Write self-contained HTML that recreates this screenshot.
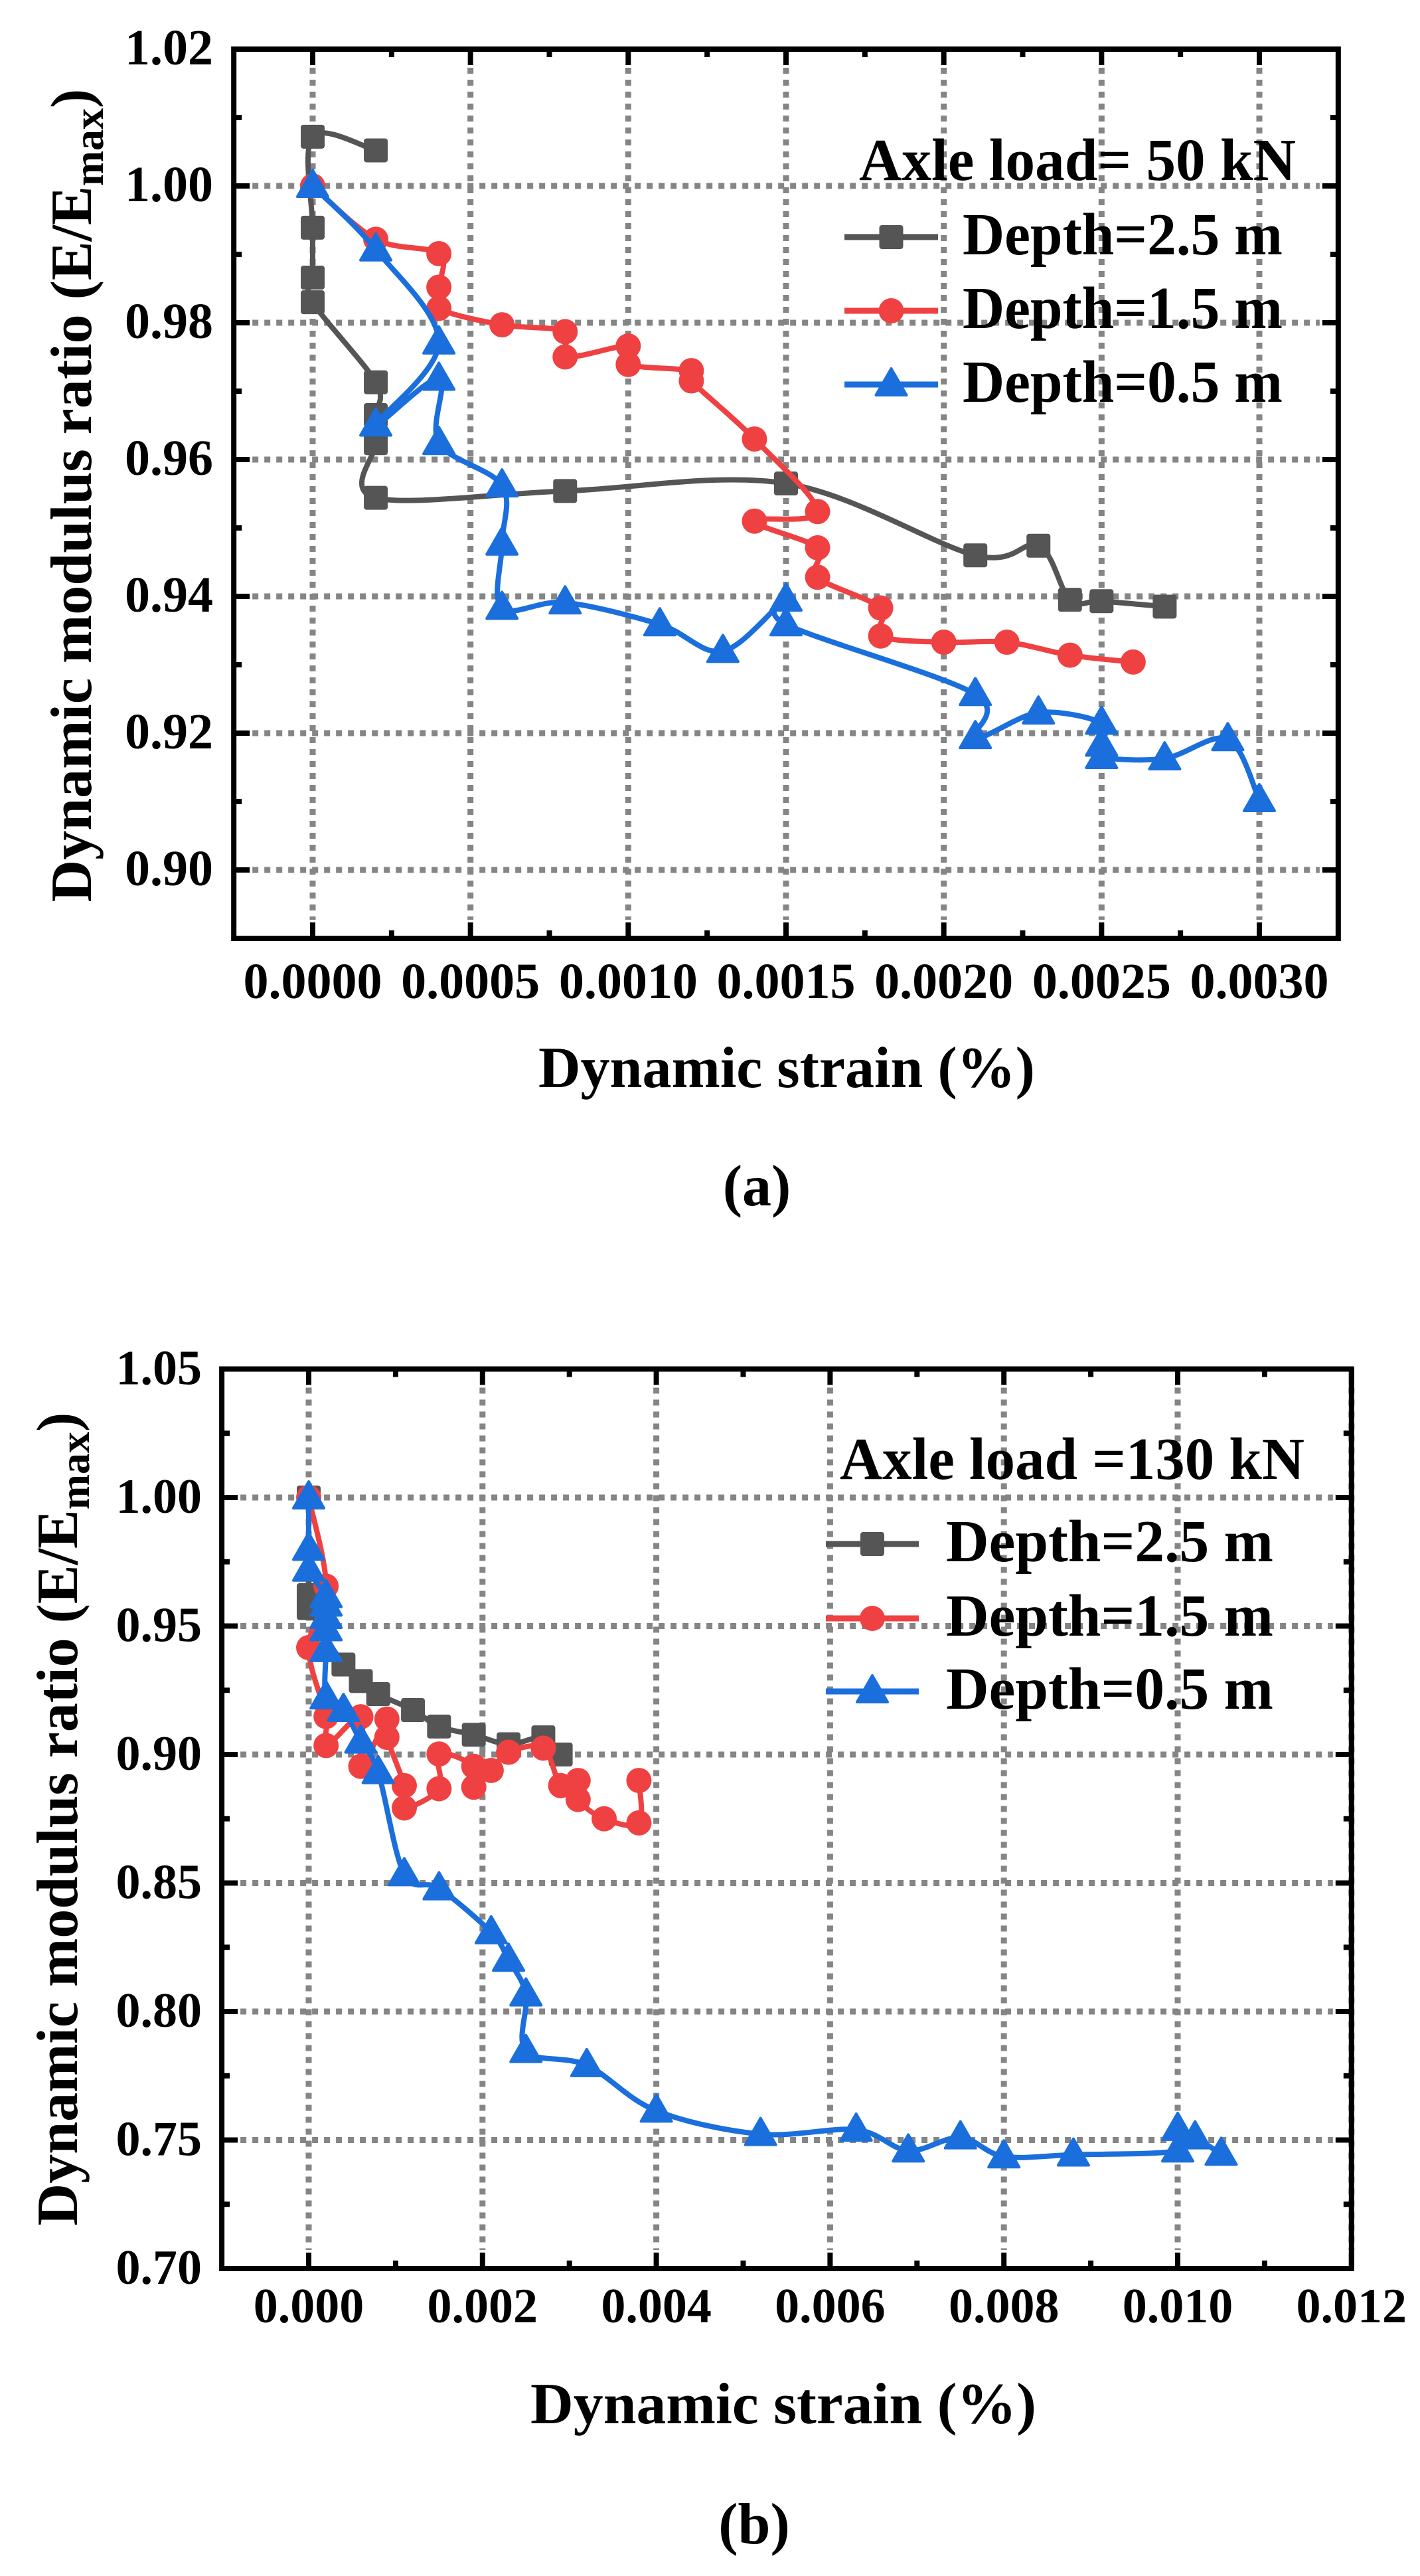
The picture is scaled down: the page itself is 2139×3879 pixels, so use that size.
<!DOCTYPE html>
<html><head><meta charset="utf-8"><style>
html,body{margin:0;padding:0;background:#fff;}
svg{display:block;}
text{font-family:"Liberation Serif",serif;font-weight:bold;fill:#000;}
</style></head>
<body>
<svg id="fig" width="2139" height="3879" viewBox="0 0 2139 3879" xmlns="http://www.w3.org/2000/svg">
<rect x="0" y="0" width="2139" height="3879" fill="#fff"/>
<g id="chartA"></g>
<g id="chartB"></g>
</svg>
<script>
// ---- Chart (a) data: Axle load = 50 kN ----
const aStrain25 = [0.0002,0,0,0,0,0.0002,0.0002,0.0002,0.0002,0.0008,0.0015,0.0021,0.0023,0.0024,0.0025,0.0027];
const aRatio25  = [1.0052,1.0072,0.9939,0.9866,0.983,0.9713,0.9665,0.9624,0.9544,0.9554,0.9565,0.946,0.9474,0.9395,0.9393,0.9385];
const aStrain15 = [0,0.0002,0.0004,0.0004,0.0004,0.0006,0.0008,0.0008,0.001,0.001,0.0012,0.0012,0.0014,0.0016,0.0014,0.0016,0.0016,0.0018,0.0018,0.002,0.0022,0.0024,0.0026];
const aRatio15  = [1.0,0.9922,0.9901,0.9852,0.9821,0.9797,0.9787,0.975,0.9766,0.9739,0.973,0.9715,0.963,0.9524,0.951,0.9471,0.9428,0.9383,0.9342,0.9333,0.9333,0.9314,0.9304];
const aStrain05 = [0,0.0002,0.0004,0.0002,0.0004,0.0004,0.0006,0.0006,0.0006,0.0008,0.0011,0.0013,0.0015,0.0015,0.0021,0.0021,0.0023,0.0025,0.0025,0.0025,0.0027,0.0029,0.003];
const aRatio05  = [1.0,0.9907,0.9771,0.9651,0.9718,0.9624,0.9562,0.9477,0.9383,0.9391,0.9359,0.932,0.9395,0.9359,0.9257,0.9194,0.923,0.9215,0.9183,0.9165,0.9163,0.9191,0.9102];
const aXTicks = [0,0.0005,0.001,0.0015,0.002,0.0025,0.003];
const aXTickLabels = ["0.0000","0.0005","0.0010","0.0015","0.0020","0.0025","0.0030"];
const aYTicks = [0.90,0.92,0.94,0.96,0.98,1.00,1.02];
const aYTickLabels = ["0.90","0.92","0.94","0.96","0.98","1.00","1.02"];

// ---- Chart (b) data: Axle load = 130 kN ----
const bStrain25 = [0,0,0,0.0004,0.0006,0.0008,0.0012,0.0015,0.0019,0.0023,0.0027,0.0029];
const bRatio25  = [1.0,0.962,0.957,0.935,0.9286,0.9235,0.9173,0.9109,0.9077,0.904,0.9067,0.9];
const bStrain15 = [0,0.0002,0,0.0002,0.0002,0.0006,0.0006,0.0009,0.0009,0.0011,0.0011,0.0015,0.0015,0.0019,0.0019,0.0021,0.0023,0.0027,0.0029,0.0031,0.0031,0.0034,0.0038,0.0038];
const bRatio15  = [1.0,0.9655,0.9416,0.9148,0.9035,0.9147,0.8954,0.9138,0.9067,0.8879,0.8792,0.8867,0.9002,0.8954,0.8873,0.8938,0.9009,0.9025,0.8879,0.8899,0.8825,0.875,0.8734,0.8899];
const bStrain05 = [0,0,0,0.0002,0.0002,0.0002,0.0002,0.0002,0.0002,0.0004,0.0006,0.0008,0.0011,0.0015,0.0021,0.0023,0.0025,0.0025,0.0032,0.004,0.0052,0.0063,0.0069,0.0075,0.008,0.0088,0.01,0.01,0.0102,0.0105];
const bRatio05  = [1.0,0.98,0.9719,0.9616,0.9583,0.9535,0.9487,0.9406,0.9222,0.9173,0.905,0.8931,0.8534,0.8479,0.8308,0.8201,0.8066,0.7846,0.7791,0.7614,0.7523,0.754,0.7459,0.751,0.7436,0.7443,0.7459,0.7543,0.751,0.7446];
const bXTicks = [0,0.002,0.004,0.006,0.008,0.010,0.012];
const bXTickLabels = ["0.000","0.002","0.004","0.006","0.008","0.010","0.012"];
const bYTicks = [0.70,0.75,0.80,0.85,0.90,0.95,1.00,1.05];
const bYTickLabels = ["0.70","0.75","0.80","0.85","0.90","0.95","1.00","1.05"];

const legendNames = ["Depth=2.5 m","Depth=1.5 m","Depth=0.5 m"];
const NS = "http://www.w3.org/2000/svg";
const COLORS = ["#555555","#ef4141","#1b6fdc"];
const SHAPES = ["square","circle","triangle"];

function mk(tag, attrs, parent){
  const e = document.createElementNS(NS, tag);
  for (const k in attrs) e.setAttribute(k, attrs[k]);
  if (parent) parent.appendChild(e);
  return e;
}
function spline(pts){
  if (pts.length < 2) return "";
  let d = "M" + pts[0][0].toFixed(1) + "," + pts[0][1].toFixed(1);
  for (let i = 0; i < pts.length - 1; i++){
    const p0 = pts[i-1] || pts[i], p1 = pts[i], p2 = pts[i+1], p3 = pts[i+2] || pts[i+1];
    const c1x = p1[0] + (p2[0]-p0[0])/6, c1y = p1[1] + (p2[1]-p0[1])/6;
    const c2x = p2[0] - (p3[0]-p1[0])/6, c2y = p2[1] - (p3[1]-p1[1])/6;
    d += " C" + c1x.toFixed(1)+","+c1y.toFixed(1)+" "+c2x.toFixed(1)+","+c2y.toFixed(1)+" "+p2[0].toFixed(1)+","+p2[1].toFixed(1);
  }
  return d;
}
function marker(g, shape, x, y, color){
  let m;
  if (shape === "square") m = mk("rect",{x:x-18,y:y-18,width:36,height:36,rx:4,fill:color},g);
  else if (shape === "circle") m = mk("circle",{cx:x,cy:y,r:19,fill:color},g);
  else m = mk("path",{d:"M"+x+","+(y-24)+" L"+(x+23)+","+(y+16)+" L"+(x-23)+","+(y+16)+" Z",fill:color,stroke:color,"stroke-width":4,"stroke-linejoin":"round"},g);
  return m;
}

function drawChart(g, c){
  const X = v => c.x0px + (v - c.x0) / (c.x1 - c.x0) * (c.x1px - c.x0px);
  const Y = v => c.y0px + (v - c.y0) / (c.y1 - c.y0) * (c.y1px - c.y0px);
  const L = X(c.xmin), R = X(c.xmax), T = Y(c.ymax), B = Y(c.ymin);
  // grid
  const grid = mk("g",{},g);
  
  
  c.xTicks.forEach(v => { mk("line",{x1:X(v),x2:X(v),y1:T+28,y2:B-28,stroke:"#858585","stroke-width":9,"stroke-dasharray":"9 9"},grid); });
  c.yTicks.forEach(v => { const y=Y(v); if (y>T+5 && y<B-5) mk("line",{x1:L+28,x2:R-28,y1:y,y2:y,stroke:"#858585","stroke-width":9,"stroke-dasharray":"9 9"},grid); });
  // axes frame
  const frame = mk("rect",{x:L,y:T,width:R-L,height:B-T,fill:"none",stroke:"#000","stroke-width":8},g);
  
  
  const ticks = mk("g",{stroke:"#000","stroke-width":8},g);
  
  
  c.xTicks.forEach((v,i) => {
    const x = X(v);
    mk("line",{x1:x,x2:x,y1:B,y2:B-24},ticks); mk("line",{x1:x,x2:x,y1:T,y2:T+24},ticks);
    const xm = X(v + (c.xTicks[1]-c.xTicks[0])/2);
    if (xm < R-5){ mk("line",{x1:xm,x2:xm,y1:B,y2:B-12},ticks); mk("line",{x1:xm,x2:xm,y1:T,y2:T+12},ticks); }
    const t = mk("text",{x:x,y:B+c.xLabelDy,"text-anchor":"middle","font-size":c.tickFont},g);
    t.textContent = c.xTickLabels[i];
    
    
  });
  c.yTicks.forEach((v,i) => {
    const y = Y(v);
    mk("line",{x1:L,x2:L+24,y1:y,y2:y},ticks); mk("line",{x1:R,x2:R-24,y1:y,y2:y},ticks);
    const ym = Y(v + (c.yTicks[1]-c.yTicks[0])/2);
    if (ym > T+5){ mk("line",{x1:L,x2:L+12,y1:ym,y2:ym},ticks); mk("line",{x1:R,x2:R-12,y1:ym,y2:ym},ticks); }
    const t = mk("text",{x:c.yLabelRight,y:y+23,"text-anchor":"end","font-size":c.tickFont},g);
    t.textContent = c.yTickLabels[i];
    
    
  });
  // series
  c.series.forEach((s,si) => {
    const sg = mk("g",{},g);
    
    
    const pts = s.xs.map((v,i) => [X(v), Y(s.ys[i])]);
    const p = mk("path",{d:spline(pts),fill:"none",stroke:COLORS[si],"stroke-width":8,"stroke-linejoin":"round","stroke-linecap":"round"},sg);
    
    
    pts.forEach(pt => {
      const m = marker(sg, SHAPES[si], pt[0], pt[1], COLORS[si]);
      
      
    });
  });
  // legend
  const lg = mk("g",{},g);
  
  
  const lt = mk("text",{x:c.leg.titleX,y:c.leg.titleY,"font-size":90,textLength:c.leg.titleW,lengthAdjust:"spacingAndGlyphs"},lg);
  lt.textContent = c.leg.title;
  
  
  legendNames.forEach((n,i) => {
    const ly = c.leg.lineY[i];
    const e = mk("g",{},lg);
    
    
    mk("line",{x1:c.leg.lineX0,x2:c.leg.lineX1,y1:ly,y2:ly,stroke:COLORS[i],"stroke-width":9},e);
    marker(e, SHAPES[i], (c.leg.lineX0+c.leg.lineX1)/2, ly, COLORS[i]);
    const t = mk("text",{x:c.leg.textX,y:ly+26,"font-size":90,textLength:c.leg.textW,lengthAdjust:"spacingAndGlyphs"},e);
    t.textContent = n;
  });
  // axis titles
  const xt = mk("text",{x:c.xTitleX,y:c.xTitleY,"text-anchor":"middle","font-size":88,textLength:c.xTitleW,lengthAdjust:"spacingAndGlyphs"},g);
  xt.textContent = "Dynamic strain (%)";
  
  
  const yt = mk("text",{transform:"translate("+c.yTitleX+","+c.yTitleY+") rotate(-90)","text-anchor":"middle","font-size":88},g);
  
  
  yt.appendChild(document.createTextNode("Dynamic modulus ratio (E/E"));
  const sub = mk("tspan",{dy:18,"font-size":64},yt); sub.textContent = "max";
  const cl = mk("tspan",{dy:-18},yt); cl.textContent = ")";
  const cap = mk("text",{x:c.capX,y:c.capY,"text-anchor":"middle","font-size":88},g);
  cap.textContent = c.caption;
  
  
}

drawChart(document.getElementById("chartA"), {
  x0:0, x1:0.003, x0px:471, x1px:1897, y0:1.0, y1:0.90, y0px:280, y1px:1310,
  xmin:-0.00025, xmax:0.00325, ymin:0.89, ymax:1.02,
  xTicks:aXTicks, xTickLabels:aXTickLabels, yTicks:aYTicks, yTickLabels:aYTickLabels,
  tickFont:76, xLabelDy:90, yLabelRight:321,
  series:[{xs:aStrain25,ys:aRatio25},{xs:aStrain15,ys:aRatio15},{xs:aStrain05,ys:aRatio05}],
  leg:{title:"Axle load= 50 kN", titleX:1294, titleY:271, titleW:658, lineX0:1272, lineX1:1413, lineY:[357,468,579], textX:1450, textW:482},
  xTitleX:1185, xTitleY:1637, xTitleW:748, yTitleX:137, yTitleY:746, caption:"(a)", capX:1140, capY:1815
});
drawChart(document.getElementById("chartB"), {
  x0:0, x1:0.010, x0px:465, x1px:1774, y0:1.0, y1:0.70, y0px:2255, y1px:3416,
  xmin:-0.001, xmax:0.012, ymin:0.70, ymax:1.05,
  xTicks:bXTicks, xTickLabels:bXTickLabels, yTicks:bYTicks, yTickLabels:bYTickLabels,
  tickFont:74, xLabelDy:81, yLabelRight:304,
  series:[{xs:bStrain25,ys:bRatio25},{xs:bStrain15,ys:bRatio15},{xs:bStrain05,ys:bRatio05}],
  leg:{title:"Axle load =130 kN", titleX:1265, titleY:2227, titleW:700, lineX0:1244, lineX1:1384, lineY:[2325,2437,2547], textX:1425, textW:493},
  xTitleX:1180, xTitleY:3649, xTitleW:762, yTitleX:116, yTitleY:2739, caption:"(b)", capX:1136, capY:3830
});
</script>
</body></html>
